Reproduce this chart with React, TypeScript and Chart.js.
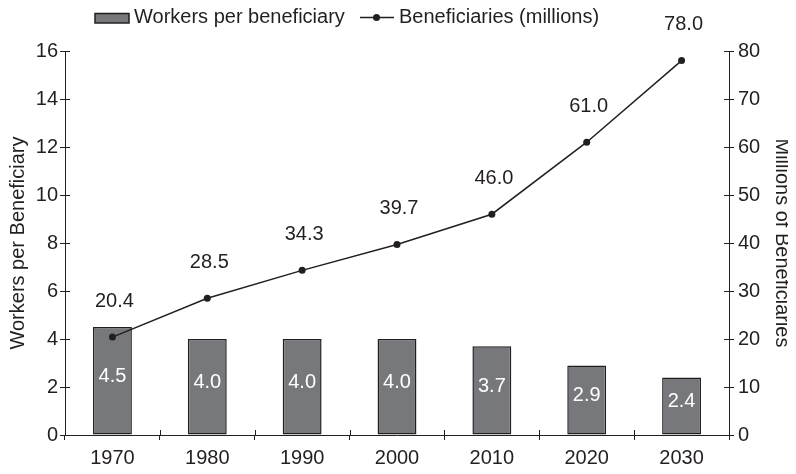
import { useEffect, useRef } from "react";
import { Chart, registerables } from "chart.js";

Chart.register(...registerables);

const years = ["1970", "1980", "1990", "2000", "2010", "2020", "2030"];
const workersPerBeneficiary = [4.5, 4.0, 4.0, 4.0, 3.7, 2.9, 2.4];
const beneficiariesMillions = [20.4, 28.5, 34.3, 39.7, 46.0, 61.0, 78.0];
const barLabel = "Workers per beneficiary";
const lineLabel = "Beneficiaries (millions)";
const leftTitle = "Workers per Beneficiary";
const rightTitle = "Millions of Beneficiaries";

const INK = "#231f20";
const BAR_FILL = "#77787b";
const FONT = '"Liberation Sans", Arial, Helvetica, sans-serif';

const innerTicksPlugin = {
  id: "innerTicks",
  afterDatasetsDraw(chart: any) {
    const { ctx, chartArea } = chart;
    const len = 5;
    ctx.save();
    ctx.strokeStyle = INK;
    ctx.lineWidth = 1;
    const yl = chart.scales.y;
    yl.ticks.forEach((t: any) => {
      const py = Math.round(yl.getPixelForValue(t.value)) + 0.5;
      ctx.beginPath();
      ctx.moveTo(chartArea.left, py);
      ctx.lineTo(chartArea.left + len, py);
      ctx.stroke();
    });
    const yr = chart.scales.y1;
    yr.ticks.forEach((t: any) => {
      const py = Math.round(yr.getPixelForValue(t.value)) + 0.5;
      ctx.beginPath();
      ctx.moveTo(chartArea.right - len, py);
      ctx.lineTo(chartArea.right, py);
      ctx.stroke();
    });
    const xs = chart.scales.x;
    const n = years.length;
    for (let i = 1; i < n; i++) {
      const px = Math.round((xs.getPixelForValue(i - 1) + xs.getPixelForValue(i)) / 2) + 0.5;
      ctx.beginPath();
      ctx.moveTo(px, chartArea.bottom);
      ctx.lineTo(px, chartArea.bottom - len);
      ctx.stroke();
    }
    ctx.restore();
  },
};

const labelsPlugin = {
  id: "valueLabels",
  afterDatasetsDraw(chart: any) {
    const { ctx } = chart;
    ctx.save();
    ctx.font = `20px ${FONT}`;
    ctx.textAlign = "center";
    ctx.textBaseline = "middle";
    const barMeta = chart.getDatasetMeta(0);
    barMeta.data.forEach((el: any, i: number) => {
      ctx.fillStyle = "#ffffff";
      const mid = (el.y + el.base) / 2 - 4;
      ctx.fillText(workersPerBeneficiary[i].toFixed(1), el.x, mid);
    });
    const lineMeta = chart.getDatasetMeta(1);
    lineMeta.data.forEach((el: any, i: number) => {
      ctx.fillStyle = INK;
      ctx.fillText(beneficiariesMillions[i].toFixed(1), el.x + 2, el.y - 36);
    });
    ctx.restore();
  },
};

const legendPlugin = {
  id: "customLegend",
  afterDraw(chart: any) {
    const { ctx } = chart;
    ctx.save();
    ctx.font = `20px ${FONT}`;
    ctx.textAlign = "left";
    ctx.textBaseline = "alphabetic";
    // bar swatch
    ctx.fillStyle = BAR_FILL;
    ctx.fillRect(87, 5.5, 34, 9.5);
    ctx.strokeStyle = INK;
    ctx.lineWidth = 1.5;
    ctx.strokeRect(87, 5.5, 34, 9.5);
    ctx.fillStyle = INK;
    ctx.fillText(barLabel, 126, 14.5);
    // line swatch
    ctx.beginPath();
    ctx.moveTo(352, 9.5);
    ctx.lineTo(386, 9.5);
    ctx.lineWidth = 1.5;
    ctx.stroke();
    ctx.beginPath();
    ctx.arc(368.5, 9.5, 3.5, 0, Math.PI * 2);
    ctx.fill();
    ctx.fillText(lineLabel, 391, 14.5);
    ctx.restore();
  },
};

export default function App() {
  const ref = useRef<HTMLCanvasElement | null>(null);

  useEffect(() => {
    if (!ref.current) return;
    Chart.defaults.font.family = FONT;
    Chart.defaults.color = INK;
    const chart = new Chart(ref.current, {
      type: "bar",
      data: {
        labels: years,
        datasets: [
          {
            type: "bar",
            label: barLabel,
            data: workersPerBeneficiary,
            backgroundColor: BAR_FILL,
            borderColor: INK,
            borderWidth: 1.5,
            borderSkipped: false,
            barPercentage: 0.41,
            categoryPercentage: 1,
            yAxisID: "y",
            order: 1,
          },
          {
            type: "line",
            label: lineLabel,
            data: beneficiariesMillions,
            borderColor: INK,
            borderWidth: 1.5,
            pointRadius: 3.5,
            pointBackgroundColor: INK,
            pointBorderColor: INK,
            pointBorderWidth: 0,
            tension: 0,
            yAxisID: "y1",
            order: 0,
          },
        ],
      },
      options: {
        responsive: false,
        animation: false,
        layout: { padding: { top: 43, left: 0, right: 0, bottom: 0 } },
        plugins: {
          legend: { display: false },
          tooltip: { enabled: false },
        },
        scales: {
          x: {
            offset: true,
            grid: {
              offset: true,
              drawOnChartArea: false,
              tickLength: 5,
              color: INK,
              lineWidth: 1,
            },
            border: { color: INK, width: 1 },
            ticks: { font: { size: 20 }, color: INK, padding: 6, maxRotation: 0 },
            afterFit: (s: any) => {
              s.height = 31;
            },
          },
          y: {
            position: "left",
            min: 0,
            max: 16,
            ticks: { stepSize: 2, font: { size: 20 }, color: INK, padding: 2 },
            grid: { drawOnChartArea: false, tickLength: 5, color: INK, lineWidth: 1 },
            border: { color: INK, width: 1 },
            title: {
              display: true,
              text: leftTitle,
              font: { size: 20, lineHeight: 1 },
              color: INK,
              padding: { top: 0, bottom: 0 },
            },
            afterFit: (s: any) => {
              s.width = 57;
            },
          },
          y1: {
            position: "right",
            min: 0,
            max: 80,
            ticks: { stepSize: 10, font: { size: 20 }, color: INK, padding: 4 },
            grid: { drawOnChartArea: false, tickLength: 5, color: INK, lineWidth: 1 },
            border: { color: INK, width: 1 },
            title: {
              display: true,
              text: rightTitle,
              font: { size: 20, lineHeight: 1 },
              color: INK,
              padding: { top: -4, bottom: 0 },
            },
            afterFit: (s: any) => {
              s.width = 59;
            },
          },
        },
      } as any,
      plugins: [innerTicksPlugin, labelsPlugin, legendPlugin],
    });
    return () => chart.destroy();
  }, []);

  return (
    <div style={{ width: 780, height: 458 }}>
      <canvas ref={ref} width={780} height={458} style={{ display: "block" }} />
    </div>
  );
}
